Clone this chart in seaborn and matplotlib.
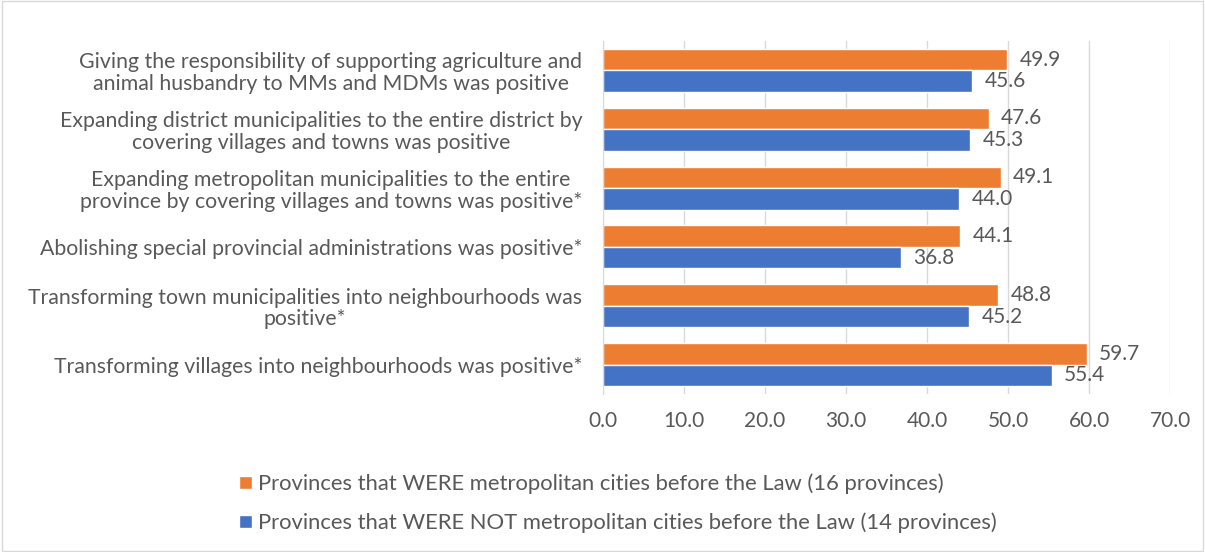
import pandas as pd
import seaborn as sns
import matplotlib.pyplot as plt
from matplotlib.patches import Rectangle

# Chart data
statements = [
    "Giving the responsibility of supporting agriculture and\nanimal husbandry to MMs and MDMs was positive",
    "Expanding district municipalities to the entire district by\ncovering villages and towns was positive",
    "Expanding metropolitan municipalities to the entire\nprovince by covering villages and towns was positive*",
    "Abolishing special provincial administrations was positive*",
    "Transforming town municipalities into neighbourhoods was\npositive*",
    "Transforming villages into neighbourhoods was positive*",
]
metro_vals = [49.9, 47.6, 49.1, 44.1, 48.8, 59.7]
non_metro_vals = [45.6, 45.3, 44.0, 36.8, 45.2, 55.4]
groups = [
    "Provinces that WERE metropolitan cities before the Law (16 provinces)",
    "Provinces that WERE NOT metropolitan cities before the Law (14 provinces)",
]
colors = ["#ED7D31", "#4472C4"]

df = pd.DataFrame({
    "Statement": statements * 2,
    "Value": metro_vals + non_metro_vals,
    "Group": [groups[0]] * len(statements) + [groups[1]] * len(statements),
})

sns.set_style("white")
plt.rcParams["font.family"] = ["Lato", "DejaVu Sans"]
text_col = "#595959"
fs = 15

fig = plt.figure(figsize=(12.05, 5.52), dpi=100)
ax = fig.add_axes([0.5004, 0.286, 0.4706, 0.64])

sns.barplot(data=df, y="Statement", x="Value", hue="Group", hue_order=groups,
            palette=colors, orient="h", width=0.73, saturation=1, ax=ax,
            legend=True)

for cont in ax.containers:
    ax.bar_label(cont, fmt="%.1f", padding=9, fontsize=fs, color=text_col)

ax.set_xlim(0, 70)
ax.set_xticks(range(0, 71, 10))
ax.set_xticklabels([f"{t:.1f}" for t in range(0, 71, 10)], fontsize=fs, color=text_col)
ax.tick_params(axis="y", labelsize=15.3, labelcolor=text_col, length=0, pad=15)
ax.tick_params(axis="x", length=0, pad=12)
for lbl in ax.get_yticklabels():
    lbl.set_horizontalalignment("right")
    lbl.set_multialignment("center")
    lbl.set_linespacing(1.1)
ax.set_xlabel("")
ax.set_ylabel("")
ax.grid(axis="x", color="#D9D9D9", linewidth=1)
ax.set_axisbelow(True)
for side in ["top", "right", "bottom"]:
    ax.spines[side].set_visible(False)
ax.spines["left"].set_color("#D9D9D9")

handles, labels = ax.get_legend_handles_labels()
ax.get_legend().remove()
fig.legend(handles, labels, loc="center", bbox_to_anchor=(0.513, 0.088), ncol=1,
           frameon=False, fontsize=15.8, labelcolor=text_col, handlelength=0.55,
           handleheight=0.55, handletextpad=0.3, labelspacing=0.85)

fig.patches.append(Rectangle((0.002, 0.002), 0.996, 0.996, transform=fig.transFigure,
                             fill=False, edgecolor="#D9D9D9", linewidth=1))

plt.savefig("out.png", dpi=100)
